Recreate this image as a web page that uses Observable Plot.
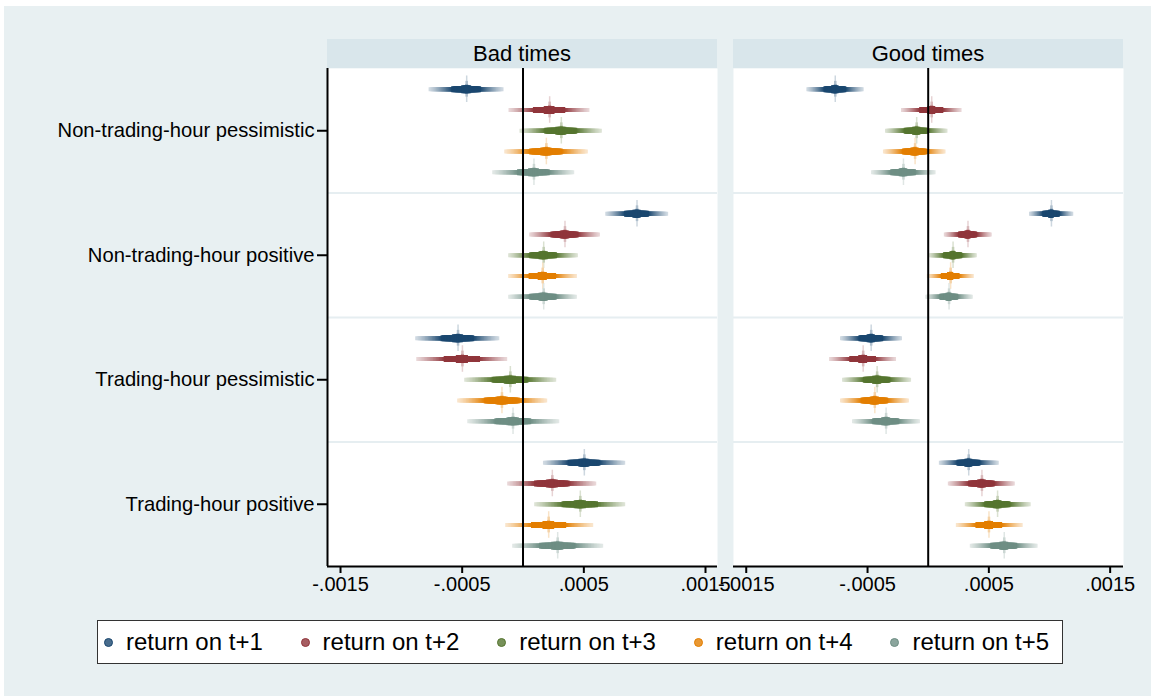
<!DOCTYPE html>
<html><head><meta charset="utf-8">
<script src="https://cdn.jsdelivr.net/npm/d3@7"></script>
<script src="https://cdn.jsdelivr.net/npm/@observablehq/plot@0.6"></script>
<style>
html,body{margin:0;padding:0;background:#fff;width:1151px;height:696px;overflow:hidden;font-family:"Liberation Sans",Arial,sans-serif;}
#bg{position:absolute;left:4px;top:6px;width:1147px;height:690px;background:#e8f0f2;}
.hdr{position:absolute;top:39px;height:29px;width:390px;background:#d9e6eb;text-align:center;font-size:22px;line-height:29px;color:#000;}
.pl{position:absolute;top:0;}
#legend{position:absolute;left:97px;top:620px;width:964px;height:42px;background:#fff;border:1px solid #333;}
.li{position:absolute;top:0;height:42px;line-height:42px;font-size:24px;color:#000;white-space:nowrap;}
.dot{position:absolute;top:17px;width:7px;height:7px;border-radius:50%;border:1px solid;}
</style></head>
<body>
<div id="bg"></div>
<div id="p1" class="pl" style="left:0"></div>
<div id="p2" class="pl" style="left:703px"></div>
<div id="h1" class="hdr" style="left:327px"></div>
<div id="h2" class="hdr" style="left:733px"></div>
<div id="legend"></div>
<script>
// ---- data ----
const panels = ["Bad times", "Good times"];
const groups = ["Non-trading-hour pessimistic", "Non-trading-hour positive", "Trading-hour pessimistic", "Trading-hour positive"];
const series = ["return on t+1", "return on t+2", "return on t+3", "return on t+4", "return on t+5"];
const colors = ["#1a476f", "#90353b", "#55752f", "#e37e00", "#6e8e84"];
const xTicks = [-0.0015, -0.0005, 0.0005, 0.0015];
const xTickLabels = ["-.0015", "-.0005", ".0005", ".0015"];

// point estimates and CI bounds, rows = groups, cols = series (t+1..t+5)
const badCoef = [
  [-4.63e-4, 2.19e-4, 3.15e-4, 1.92e-4, 0.90e-4],
  [9.37e-4, 3.45e-4, 1.70e-4, 1.62e-4, 1.70e-4],
  [-5.34e-4, -4.98e-4, -1.04e-4, -1.73e-4, -0.82e-4],
  [5.04e-4, 2.41e-4, 4.71e-4, 2.11e-4, 2.85e-4]
];
const badLo = [
  [-7.72e-4, -1.15e-4, -0.25e-4, -1.50e-4, -2.49e-4],
  [6.80e-4, 0.55e-4, -1.18e-4, -1.18e-4, -1.18e-4],
  [-8.82e-4, -8.73e-4, -4.79e-4, -5.37e-4, -4.54e-4],
  [1.68e-4, -1.26e-4, 0.96e-4, -1.42e-4, -0.85e-4]
];
const badHi = [
  [-1.56e-4, 5.50e-4, 6.52e-4, 5.37e-4, 4.25e-4],
  [11.97e-4, 6.36e-4, 4.55e-4, 4.47e-4, 4.47e-4],
  [-1.91e-4, -1.26e-4, 2.77e-4, 2.03e-4, 3.02e-4],
  [8.44e-4, 6.06e-4, 8.44e-4, 5.81e-4, 6.63e-4]
];
const goodCoef = [
  [-7.66e-4, 0.29e-4, -0.95e-4, -1.08e-4, -2.04e-4],
  [10.16e-4, 3.28e-4, 2.05e-4, 1.85e-4, 1.72e-4],
  [-4.70e-4, -5.36e-4, -4.21e-4, -4.40e-4, -3.47e-4],
  [3.34e-4, 4.43e-4, 5.72e-4, 5.01e-4, 6.27e-4]
];
const goodLo = [
  [-10.0e-4, -2.20e-4, -3.52e-4, -3.69e-4, -4.67e-4],
  [8.35e-4, 1.33e-4, 0.07e-4, -0.07e-4, -0.20e-4],
  [-7.23e-4, -8.13e-4, -7.06e-4, -7.23e-4, -6.24e-4],
  [0.92e-4, 1.66e-4, 3.06e-4, 2.32e-4, 3.47e-4]
];
const goodHi = [
  [-5.28e-4, 2.79e-4, 1.63e-4, 1.47e-4, 0.65e-4],
  [12.0e-4, 5.28e-4, 4.05e-4, 3.80e-4, 3.72e-4],
  [-2.12e-4, -2.61e-4, -1.37e-4, -1.55e-4, -0.64e-4],
  [5.86e-4, 7.18e-4, 8.49e-4, 7.83e-4, 9.06e-4]
];

// ---- build tables ----
function rowsFor(coef, lo, hi) {
  const out = [];
  groups.forEach((g, gi) => series.forEach((s, si) => {
    out.push({group: g, series: s, si, b: coef[gi][si], lo: lo[gi][si], hi: hi[gi][si], y: gi * 6 + si + 1});
  }));
  return out;
}
const N = 30;
function smoothLayers(rows) {
  const out = [];
  for (let k = 0; k < N; k++) {
    const r = 1 - k / N;
    const w = r > 0.42 ? 4 : r > 0.16 ? 6 : 8;
    const t = Math.min(1, 0.2 + 0.8 * Math.pow((1 - r) / 0.6, 1.2));
    for (const d of rows) {
      out.push({y: d.y, x1: d.b - r * (d.b - d.lo), x2: d.b + r * (d.hi - d.b), w,
        color: d3.interpolateRgb("#ffffff", colors[d.si])(t)});
    }
  }
  return out;
}
const spikeSpec = [{len: 0.64, w: 1.5, t: 0.22}, {len: 0.38, w: 2.5, t: 0.35}, {len: 0.22, w: 3, t: 0.55}];
function spikes(rows) {
  const out = [];
  for (const s of spikeSpec) for (const d of rows)
    out.push({b: d.b, y1: d.y - s.len, y2: d.y + s.len, w: s.w, color: d3.interpolateRgb("#ffffff", colors[d.si])(s.t)});
  return out;
}

function panel(rows, {width, marginLeft, marginRight, domain, yaxis}) {
  const marks = [
    Plot.frame({fill: "white", stroke: null}),
    Plot.ruleY([6, 12, 18], {stroke: "#e6eef1", strokeWidth: 2}),
    Plot.ruleX(spikes(rows), {x: "b", y1: "y1", y2: "y2", stroke: "color", strokeWidth: "w"}),
    Plot.ruleY(smoothLayers(rows), {y: "y", x1: "x1", x2: "x2", stroke: "color", strokeWidth: "w"}),
    Plot.ruleX([0], {stroke: "black", strokeWidth: 2}),
    Plot.ruleY([24], {stroke: "black", strokeWidth: 2}),
    Plot.axisX({ticks: xTicks, tickFormat: d => xTickLabels[xTicks.indexOf(d)], tickSize: 7, strokeWidth: 2, tickPadding: 3, fontSize: 20, label: null})
  ];
  if (yaxis) {
    marks.push(Plot.ruleX([domain[0]], {stroke: "black", strokeWidth: 2}));
    marks.push(Plot.axisY({ticks: [3, 9, 15, 21], tickFormat: d => groups[(d - 3) / 6], tickSize: 10, strokeWidth: 2, tickPadding: 3, fontSize: 20.2, label: null}));
  }
  return Plot.plot({
    width, height: 606, marginTop: 68, marginBottom: 40, marginLeft, marginRight,
    x: {domain, axis: null},
    y: {domain: [24, 0], axis: null},
    color: {type: "identity"},
    style: {fontFamily: "'Liberation Sans', Arial, sans-serif", fontSize: "20px", background: "transparent", overflow: "visible", color: "black"},
    marks
  });
}

document.getElementById("p1").append(panel(rowsFor(badCoef, badLo, badHi),
  {width: 725, marginLeft: 327, marginRight: 8, domain: [-0.001607, 0.0015986], yaxis: true}));
document.getElementById("p2").append(panel(rowsFor(goodCoef, goodLo, goodHi),
  {width: 448, marginLeft: 30, marginRight: 28, domain: [-0.001605, 0.00161], yaxis: false}));
document.getElementById("h1").textContent = panels[0];
document.getElementById("h2").textContent = panels[1];

// legend
const leg = document.getElementById("legend");
const step = 196.6;
series.forEach((s, i) => {
  const dot = document.createElement("span");
  dot.className = "dot";
  dot.style.left = (6 + i * step) + "px";
  dot.style.background = d3.interpolateRgb("#ffffff", colors[i])(0.8);
  dot.style.borderColor = colors[i];
  leg.append(dot);
  const t = document.createElement("span");
  t.className = "li";
  t.style.left = (28 + i * step) + "px";
  t.textContent = s;
  leg.append(t);
});
</script>
</body></html>
